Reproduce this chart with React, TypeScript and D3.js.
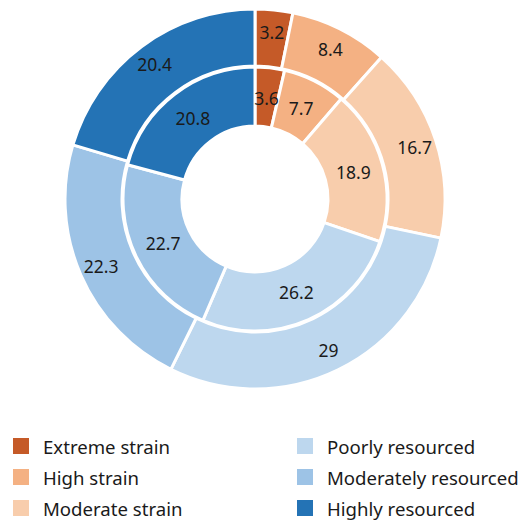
import { useMemo } from 'react';
import * as d3 from 'd3';

const categories = ['Extreme strain', 'High strain', 'Moderate strain', 'Poorly resourced', 'Moderately resourced', 'Highly resourced'];
const colors = ['#c55a28', '#f4b183', '#f8cdac', '#bdd7ee', '#9dc3e6', '#2473b5'];
const outerValues = [3.2, 8.4, 16.7, 29, 22.3, 20.4];
const innerValues = [3.6, 7.7, 18.9, 26.2, 22.7, 20.8];
const legendColumns = [[0, 1, 2], [3, 4, 5]];

const WIDTH = 526;
const HEIGHT = 523;
const CX = 255;
const CY = 199;
const FONT = "'Source Sans Pro', 'Noto Sans', sans-serif";

export default function App() {
  const pie = useMemo(() => d3.pie<number>().value(d => d).sort(null), []);
  const outerArc = d3.arc<d3.PieArcDatum<number>>().innerRadius(133).outerRadius(190);
  const innerArc = d3.arc<d3.PieArcDatum<number>>().innerRadius(73).outerRadius(132);
  const outerLabel = d3.arc<d3.PieArcDatum<number>>().innerRadius(168).outerRadius(168);
  const innerLabel = d3.arc<d3.PieArcDatum<number>>().innerRadius(102).outerRadius(102);

  const rings = [
    { data: pie(outerValues), arc: outerArc, label: outerLabel },
    { data: pie(innerValues), arc: innerArc, label: innerLabel },
  ];

  return (
    <svg width={WIDTH} height={HEIGHT} style={{ position: 'absolute', left: 0, top: 0, background: '#fff' }}>
      <g transform={`translate(${CX},${CY})`}>
        {rings.map((ring, r) => (
          <g key={r}>
            {ring.data.map((d, i) => (
              <path key={i} d={ring.arc(d) || ''} fill={colors[i]} stroke="#fff" strokeWidth={3} strokeLinejoin="round" />
            ))}
            {ring.data.map((d, i) => {
              const [x, y] = ring.label.centroid(d);
              return (
                <text key={`t${i}`} x={x} y={y} textAnchor="middle" dominantBaseline="central"
                  fontFamily={FONT} fontSize={17.5} fill="#1a1a1a">
                  {d.data}
                </text>
              );
            })}
          </g>
        ))}
      </g>
      {legendColumns.map((col, c) => (
        <g key={c} transform={`translate(${c === 0 ? 13 : 297},0)`}>
          {col.map((idx, row) => {
            const y = 446 + row * 31;
            return (
              <g key={idx}>
                <rect x={0} y={y - 8} width={16} height={16} fill={colors[idx]} />
                <text x={30} y={y} dominantBaseline="central" fontFamily={FONT} fontSize={18.6} fill="#1a1a1a">
                  {categories[idx]}
                </text>
              </g>
            );
          })}
        </g>
      ))}
    </svg>
  );
}
